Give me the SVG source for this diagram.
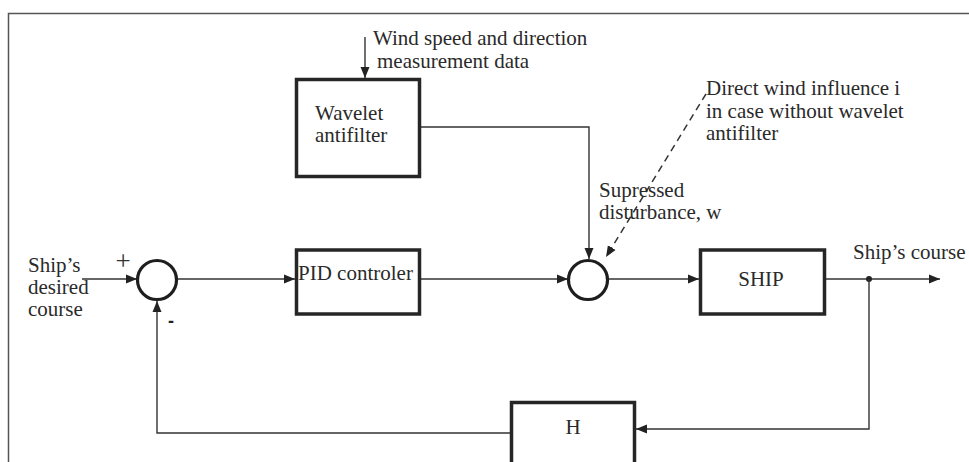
<svg xmlns="http://www.w3.org/2000/svg" width="969" height="462" viewBox="0 0 969 462">
<style>
.box{fill:#fff;stroke:#262626;stroke-width:3.5}
.sum{fill:#fff;stroke:#1e1e1e;stroke-width:3.2}
.ln{fill:none;stroke:#333;stroke-width:1.4}
.dash{fill:none;stroke:#333;stroke-width:1.5;stroke-dasharray:7 5}
.t{font-family:"Liberation Serif","Times New Roman",serif;font-size:21px;fill:#2a2a2a}
</style>
<defs>
<marker id="ah" markerUnits="userSpaceOnUse" markerWidth="12" markerHeight="10" refX="11" refY="5" orient="auto">
<path d="M0,0.5 L11,5 L0,9.5 Z" fill="#222"/>
</marker>
</defs>
<rect x="8.5" y="13.5" width="980" height="480" fill="#fff" stroke="#555" stroke-width="1.5"/>

<g id="connectors">
<line class="ln" x1="365" y1="37" x2="365" y2="78" marker-end="url(#ah)"/>
<polyline class="ln" points="421,127 589,127 589,259" marker-end="url(#ah)"/>
<line class="ln" x1="82" y1="279" x2="137" y2="279" marker-end="url(#ah)"/>
<line class="ln" x1="177" y1="279" x2="295" y2="279" marker-end="url(#ah)"/>
<line class="ln" x1="421" y1="279" x2="568" y2="279" marker-end="url(#ah)"/>
<line class="ln" x1="608" y1="279" x2="699" y2="279" marker-end="url(#ah)"/>
<line class="ln" x1="826" y1="279" x2="940" y2="279" marker-end="url(#ah)"/>
<circle cx="869" cy="279" r="3" fill="#222"/>
<polyline class="ln" points="869,279 869,429 636,429" marker-end="url(#ah)"/>
<polyline class="ln" points="510,433 157,433 157,301" marker-end="url(#ah)"/>
<line class="dash" x1="706" y1="94" x2="606" y2="257" marker-end="url(#ah)"/>
</g>

<g id="wavelet">
<rect class="box" x="296.5" y="79.5" width="123" height="97"/>
<text class="t" x="315" y="120">Wavelet</text>
<text class="t" x="315" y="142">antifilter</text>
</g>
<g id="pid">
<rect class="box" x="296.5" y="250" width="123" height="64"/>
<text class="t" x="298" y="280">PID controler</text>
</g>
<g id="ship">
<rect class="box" x="700.5" y="250" width="124" height="64"/>
<text class="t" x="761" y="286" text-anchor="middle">SHIP</text>
</g>
<g id="h">
<rect class="box" x="511.5" y="402.5" width="123" height="80"/>
<text class="t" x="573" y="434" text-anchor="middle">H</text>
</g>
<g id="sum1">
<circle class="sum" cx="157" cy="280" r="19.5"/>
</g>
<g id="sum2">
<circle class="sum" cx="588" cy="280" r="19.5"/>
</g>

<g id="labels">
<text class="t" x="373" y="45">Wind speed and direction</text>
<text class="t" x="377" y="68">measurement data</text>
<text class="t" x="706" y="95">Direct wind influence i</text>
<text class="t" x="706" y="118">in case without wavelet</text>
<text class="t" x="706" y="140">antifilter</text>
<text class="t" x="599" y="197">Supressed</text>
<text class="t" x="599" y="219">disturbance, w</text>
<text class="t" x="28" y="272">Ship’s</text>
<text class="t" x="28" y="294">desired</text>
<text class="t" x="28" y="316">course</text>
<text class="t" x="853" y="259">Ship’s course</text>
<text x="123" y="270" text-anchor="middle" style="font-family:'Liberation Serif',serif;font-size:27px;fill:#333">+</text>
<text x="168" y="327" style="font-family:'Liberation Sans',sans-serif;font-weight:bold;font-size:18px;fill:#222">-</text>
</g>
</svg>
